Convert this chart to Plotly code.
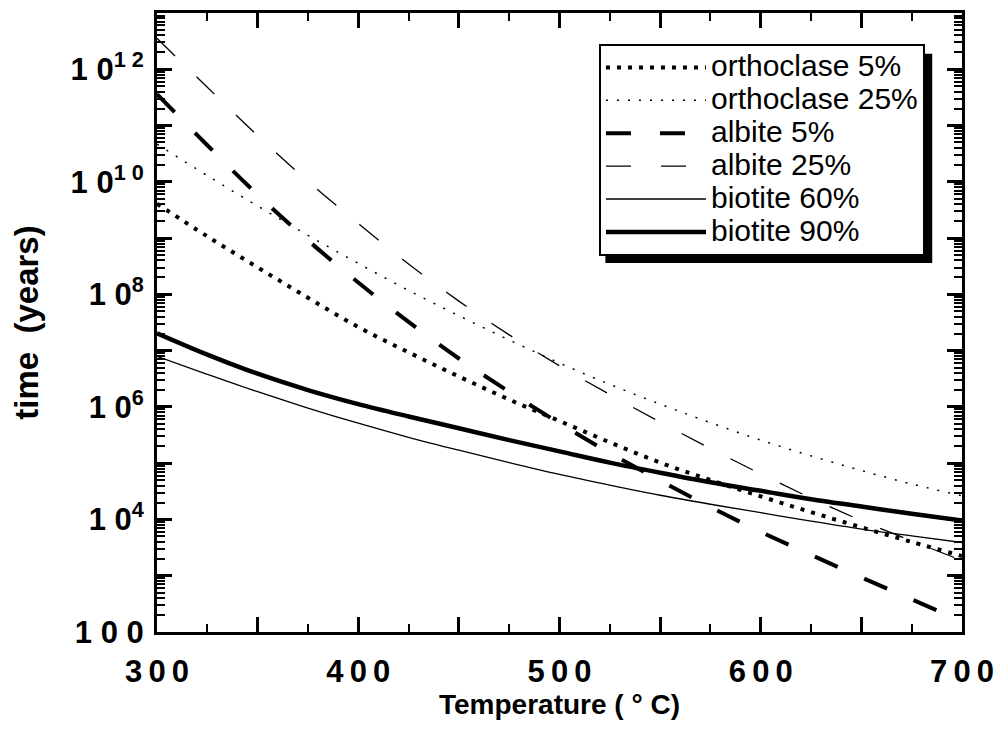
import plotly.graph_objects as go

# --- data (log10 of time in years) ---
temps = [300, 325, 350, 375, 400, 425, 450, 475, 500, 525, 550, 575, 600, 625, 650, 675, 700]

orth5_log = [9.61, 9.03, 8.48, 7.94, 7.42, 6.97, 6.54, 6.13, 5.75, 5.37, 5.01, 4.70, 4.41, 4.13, 3.86, 3.60, 3.35]
orth25_log = [10.67, 10.11, 9.57, 9.05, 8.55, 8.07, 7.62, 7.19, 6.78, 6.40, 6.05, 5.72, 5.41, 5.13, 4.87, 4.63, 4.42]
alb5_log = [11.56, 10.65, 9.77, 8.96, 8.21, 7.51, 6.86, 6.27, 5.71, 5.18, 4.69, 4.22, 3.78, 3.37, 2.97, 2.58, 2.19]
alb25_log = [12.55, 11.68, 10.82, 10.01, 9.26, 8.54, 7.88, 7.28, 6.73, 6.22, 5.73, 5.26, 4.81, 4.38, 3.98, 3.62, 3.27]
bio60_log = [6.90, 6.58, 6.27, 5.98, 5.71, 5.46, 5.23, 5.01, 4.80, 4.61, 4.43, 4.27, 4.12, 3.97, 3.83, 3.71, 3.59]
bio90_log = [7.31, 6.93, 6.59, 6.30, 6.05, 5.83, 5.62, 5.41, 5.21, 5.01, 4.83, 4.66, 4.51, 4.36, 4.23, 4.10, 3.98]

x_ticks = [300, 350, 400, 450, 500, 550, 600, 650, 700]
x_labels = ["3\u20090\u20090", "", "4\u20090\u20090", "", "5\u20090\u20090", "", "6\u20090\u20090", "", "7\u20090\u20090"]
y_exps = list(range(2, 14))
y_labels = ["1 0 0", "", "1 0<sup>4</sup>", "", "1 0<sup>6</sup>", "", "1 0<sup>8</sup>", "",
            "1 0<sup>1 0</sup>", "", "1 0<sup>1 2</sup>", ""]

series = [
    ("orthoclase 5%", orth5_log, 4, "4px,7px"),
    ("orthoclase 25%", orth25_log, 1.5, "2px,9px"),
    ("albite 5%", alb5_log, 4, "25px,29px"),
    ("albite 25%", alb25_log, 1.3, "25px,30px"),
    ("biotite 60%", bio60_log, 1.3, "solid"),
    ("biotite 90%", bio90_log, 4.5, "solid"),
]

fig = go.Figure()
for name, logs, w, dash in series:
    # legend rows are spaced by the small legend font, text is drawn larger
    fig.add_trace(go.Scatter(x=temps, y=[10 ** v for v in logs], mode="lines",
                             name=f'<span style="font-size:30px">{name}</span>',
                             line=dict(color="black", width=w, dash=dash, shape="spline")))

tickfont = dict(family="Liberation Sans", size=31, color="black", weight="bold")
fig.update_xaxes(range=[300, 700], tickmode="array", tickvals=x_ticks, ticktext=x_labels,
                 ticks="inside", ticklen=15, tickwidth=2.5, tickcolor="black",
                 minor=dict(tickmode="array", tickvals=[325, 375, 425, 475, 525, 575, 625, 675],
                            ticks="inside", ticklen=8, tickwidth=2, tickcolor="black"),
                 showline=True, linewidth=3, linecolor="black", mirror="ticks",
                 showgrid=False, zeroline=False, tickfont=tickfont, ticklabelstandoff=10,
                 title=dict(text="Temperature ( ° C)", standoff=4,
                            font=dict(family="Liberation Sans", size=28, color="black", weight="bold")))
fig.update_yaxes(type="log", range=[2, 13], tickmode="array", tickvals=[10 ** e for e in y_exps],
                 ticktext=y_labels, ticks="inside", ticklen=15, tickwidth=2.5, tickcolor="black",
                 minor=dict(tickmode="array", tickvals=[k * 10 ** e for e in range(2, 13) for k in range(2, 10)],
                            ticks="inside", ticklen=8, tickwidth=1.5, tickcolor="black"),
                 showline=True, linewidth=3, linecolor="black", mirror="ticks",
                 showgrid=False, zeroline=False, tickfont=tickfont, ticklabelstandoff=4,
                 title=dict(text="time  (years)", standoff=37,
                            font=dict(family="Liberation Sans", size=33, color="black", weight="bold")))

# drop shadow behind the legend box
fig.add_shape(type="rect", xref="paper", yref="paper", x0=0.557, x1=0.963, y0=0.596, y1=0.934,
              fillcolor="black", line=dict(width=0), layer="above")

fig.update_layout(width=1007, height=733, margin=dict(l=149, r=53, t=2, b=109),
                  plot_bgcolor="white", paper_bgcolor="white", showlegend=True,
                  legend=dict(x=0.954, y=0.95, xanchor="right", yanchor="top",
                              bgcolor="white", bordercolor="black", borderwidth=2,
                              itemwidth=100, tracegroupgap=0,
                              font=dict(family="Liberation Sans", size=23, color="black")))

fig.write_html("out.html")
